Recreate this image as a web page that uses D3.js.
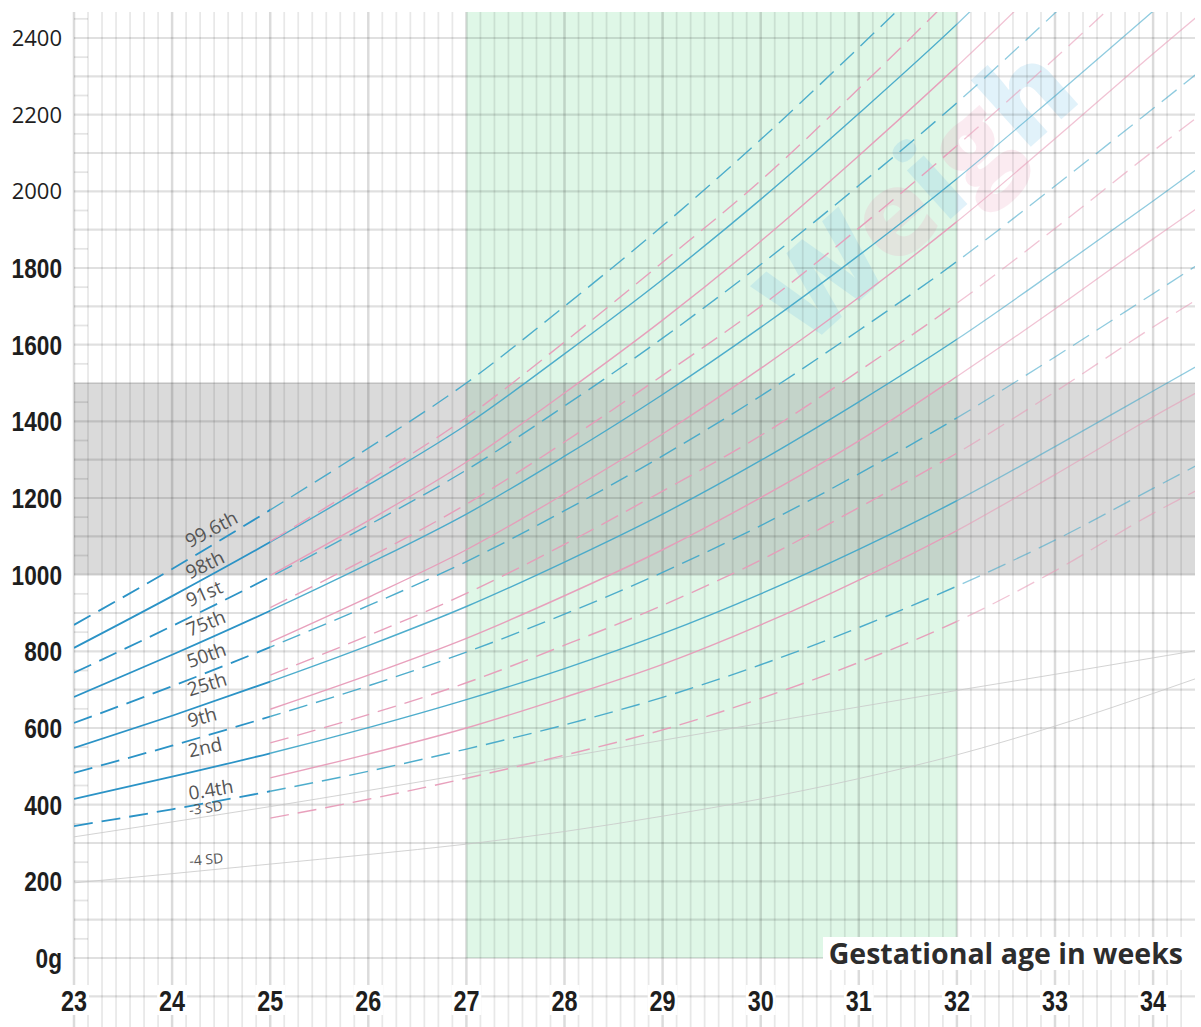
<!DOCTYPE html>
<html>
<head>
<meta charset="utf-8">
<script src="https://cdn.jsdelivr.net/npm/d3@7"></script>
<style>
  body { margin: 0; background: #fff; }
  svg { display: block; }
</style>
</head>
<body>
<svg id="chart" width="1201" height="1027"></svg>
<script>
// gestational weeks the curves are read at
var weeks = [23, 24, 25, 26, 27, 28, 29, 30, 31, 32, 33, 34, 35];
var girlWeeks = [25, 26, 27, 28, 29, 30, 31, 32, 33, 34, 35];

var centileNames = ["99.6th", "98th", "91st", "75th", "50th", "25th", "9th", "2nd", "0.4th"];
var centileDashed = [true, false, true, false, true, false, true, false, true];

// boys weight (g), one row per centile, top to bottom
var boysWeight = [
  [869, 1015, 1169, 1330, 1500, 1700, 1910, 2135, 2375, 2625, 2895, 3170, 3450],
  [809, 944, 1085, 1234, 1391, 1576, 1770, 1979, 2203, 2436, 2689, 2947, 3209],
  [744, 866, 994, 1129, 1273, 1440, 1617, 1809, 2015, 2231, 2465, 2705, 2948],
  [681, 791, 906, 1028, 1158, 1309, 1470, 1645, 1833, 2033, 2249, 2470, 2695],
  [613, 709, 811, 919, 1034, 1167, 1310, 1466, 1637, 1817, 2014, 2216, 2420],
  [548, 632, 721, 815, 917, 1033, 1158, 1298, 1451, 1614, 1792, 1975, 2161],
  [483, 554, 630, 710, 798, 897, 1006, 1128, 1263, 1409, 1568, 1733, 1899],
  [415, 473, 534, 601, 674, 755, 846, 950, 1066, 1193, 1334, 1479, 1625],
  [344, 388, 435, 487, 545, 608, 680, 765, 862, 970, 1090, 1225, 1360]
];

// girls weight (g), from 25 weeks
var girlsWeight = [
  [1087, 1244, 1410, 1607, 1815, 2028, 2268, 2520, 2779, 3043, 3312],
  [998, 1141, 1294, 1474, 1664, 1870, 2093, 2326, 2573, 2829, 3081],
  [914, 1044, 1184, 1346, 1520, 1700, 1904, 2119, 2347, 2583, 2815],
  [824, 941, 1065, 1211, 1367, 1538, 1723, 1921, 2137, 2359, 2574],
  [738, 841, 951, 1079, 1218, 1363, 1531, 1708, 1903, 2105, 2299],
  [649, 738, 834, 945, 1065, 1201, 1349, 1517, 1693, 1876, 2053],
  [561, 635, 718, 816, 920, 1038, 1175, 1317, 1477, 1646, 1804],
  [470, 532, 600, 680, 766, 869, 986, 1115, 1261, 1412, 1552],
  [365, 414, 469, 529, 595, 677, 771, 878, 1010, 1160, 1290]
];

var sdNames = ["-3 SD", "-4 SD"];
var sdWeight = [
  [316, 355, 395, 437, 480, 524, 568, 612, 655, 698, 740, 783, 826],
  [196, 220, 245, 270, 297, 330, 370, 415, 468, 530, 605, 690, 780]
];

var xTicks = [23, 24, 25, 26, 27, 28, 29, 30, 31, 32, 33, 34];
var yTicks = [0, 200, 400, 600, 800, 1000, 1200, 1400, 1600, 1800, 2000, 2200, 2400];
var greenBand = [27, 32];
var grayBand = [1000, 1500];

// label nudges in px above each curve
var centileLabelDy = [-10, -7, -10, -10, -11, -13, -13, -15, -6];
var sdLabelDy = [-4, -6];

var svg = d3.select("#chart");
var H = 1027;
var plotLeft = 74, plotTop = 12, plotRight = 1195;

var x = d3.scaleLinear().domain([23, 34.5]).range([74, 74 + 11.5 * 98.1]);
var y = d3.scaleLinear().domain([0, 2400]).range([958, 38]);

var defs = svg.append("defs");
function clip(id, x0, x1) {
  defs.append("clipPath").attr("id", id)
    .append("rect").attr("x", x0).attr("y", plotTop)
    .attr("width", x1 - x0).attr("height", H - plotTop);
}
clip("clipA", plotLeft, x(25));
clip("clipB", x(25), x(32));
clip("clipC", x(32), plotRight);
clip("clipAll", plotLeft, plotRight);

// bands
svg.append("rect")
  .attr("x", x(greenBand[0])).attr("y", plotTop)
  .attr("width", x(greenBand[1]) - x(greenBand[0])).attr("height", y(0) - plotTop)
  .attr("fill", "#dff7e7");
svg.append("rect")
  .attr("x", plotLeft).attr("y", y(grayBand[1]))
  .attr("width", plotRight - plotLeft).attr("height", y(grayBand[0]) - y(grayBand[1]))
  .attr("fill", "#8c8c8c").attr("fill-opacity", 0.32);

// watermark, one letter at a time along a slanted baseline
var wmLetters = ["W", "e", "i", "g", "h"];
var wmColors = ["#6fbfe8", "#f0a0bd", "#6fbfe8", "#f0a0bd", "#6fbfe8"];
var wmAdvance = [0, 118, 188, 224, 296];
var wmAngle = -42 * Math.PI / 180;
wmLetters.forEach(function(l, i) {
  var px = 805 + wmAdvance[i] * Math.cos(wmAngle);
  var py = 350 + wmAdvance[i] * Math.sin(wmAngle);
  svg.append("text")
    .attr("transform", "translate(" + px + "," + py + ") rotate(-42)")
    .style("font-family", "Open Sans, sans-serif")
    .style("font-weight", "800")
    .style("font-size", "118px")
    .attr("fill", wmColors[i])
    .attr("opacity", 0.2)
    .text(l);
});

// grid
var grid = svg.append("g");
for (var d = 0; d <= 11.4 * 7; d++) {
  var wk = 23 + d / 7;
  var major = d % 7 === 0;
  grid.append("line")
    .attr("x1", x(wk)).attr("x2", x(wk))
    .attr("y1", plotTop).attr("y2", H)
    .attr("stroke", "#000")
    .attr("stroke-opacity", major ? 0.14 : 0.09)
    .attr("stroke-width", major ? 2.5 : 1.8);
}
for (var g = -100; g <= 2400; g += 100) {
  grid.append("line")
    .attr("x1", plotLeft).attr("x2", plotRight)
    .attr("y1", y(g)).attr("y2", y(g))
    .attr("stroke", "#000").attr("stroke-opacity", 0.12)
    .attr("stroke-width", 2.2);
}
for (var g2 = 50; g2 <= 2450; g2 += 100) {
  grid.append("line")
    .attr("x1", plotLeft).attr("x2", plotLeft + 14)
    .attr("y1", y(g2)).attr("y2", y(g2))
    .attr("stroke", "#000").attr("stroke-opacity", 0.1)
    .attr("stroke-width", 1.8);
}

// curves
var line = d3.line().curve(d3.curveMonotoneX);
function drawSet(rows, wks, color, clipId, width, opacity) {
  var gset = svg.append("g").attr("clip-path", "url(#" + clipId + ")");
  rows.forEach(function(r, i) {
    gset.append("path")
      .attr("d", line(r.map(function(v, j) { return [x(wks[j]), y(v)]; })))
      .attr("fill", "none")
      .attr("stroke", color)
      .attr("stroke-width", width)
      .attr("stroke-opacity", opacity)
      .attr("stroke-dasharray", centileDashed[i] ? "19,9" : null);
  });
}
// sd lines
sdWeight.forEach(function(r) {
  svg.append("path")
    .attr("clip-path", "url(#clipAll)")
    .attr("d", line(r.map(function(v, j) { return [x(weeks[j]), y(v)]; })))
    .attr("fill", "none").attr("stroke", "#c8c8c8")
    .attr("stroke-width", 1).attr("stroke-opacity", 0.8);
});
drawSet(boysWeight, weeks, "#2b93c6", "clipA", 1.8, 1);
drawSet(boysWeight, weeks, "#45a9c9", "clipB", 1.4, 0.95);
drawSet(boysWeight, weeks, "#45a9c9", "clipC", 1.3, 0.6);
drawSet(girlsWeight, girlWeeks, "#e79bb8", "clipB", 1.4, 0.95);
drawSet(girlsWeight, girlWeeks, "#e79bb8", "clipC", 1.3, 0.6);

// centile labels
var labelWeek = 24.18;
function labelAt(row, name, size, dy) {
  var f = d3.scaleLinear().domain(weeks).range(row);
  var v0 = f(labelWeek), v1 = f(labelWeek + 0.5);
  var ang = Math.atan2(y(v0) - y(v1), x(labelWeek + 0.5) - x(labelWeek)) * 180 / Math.PI;
  svg.append("text")
    .attr("transform", "translate(" + x(labelWeek) + "," + (y(v0) + dy) + ") rotate(" + (-ang * 0.9) + ")")
    .style("font-family", "Open Sans, sans-serif")
    .style("font-size", size + "px")
    .attr("fill", "#555")
    .text(name);
}
boysWeight.forEach(function(r, i) { labelAt(r, centileNames[i], 19, centileLabelDy[i]); });
sdWeight.forEach(function(r, i) { labelAt(r, sdNames[i], 14, sdLabelDy[i]); });

// y axis labels
var yLab = svg.append("g");
yTicks.forEach(function(t) {
  var big = t >= 2000;
  yLab.append("text")
    .attr("transform", "translate(62," + (y(t) + (big ? 8 : 10)) + ") scale(" + (big ? 1 : 0.84) + ",1)")
    .attr("text-anchor", "end")
    .style("font-family", big ? "Open Sans, sans-serif" : "Liberation Sans, Arial, sans-serif")
    .style("font-weight", big ? "400" : "700")
    .style("font-size", big ? "22px" : "27px")
    .attr("fill", "#1e1e1e")
    .text(t === 0 ? "0g" : t);
});

// x axis labels
var xLab = svg.append("g");
xTicks.forEach(function(t) {
  xLab.append("rect")
    .attr("x", x(t) - 15).attr("y", 985).attr("width", 30).attr("height", 30)
    .attr("fill", "#fff");
  xLab.append("text")
    .attr("transform", "translate(" + x(t) + ",1011) scale(0.78,1)")
    .attr("text-anchor", "middle")
    .style("font-family", "Liberation Sans, Arial, sans-serif")
    .style("font-weight", "700")
    .style("font-size", "30px")
    .attr("fill", "#1e1e1e")
    .text(t);
});

// axis title
svg.append("rect")
  .attr("x", 823).attr("y", 937).attr("width", 372).attr("height", 33)
  .attr("fill", "#fff");
svg.append("text")
  .attr("x", 1183).attr("y", 964)
  .attr("text-anchor", "end")
  .style("font-family", "Open Sans, sans-serif")
  .style("font-weight", "700")
  .style("font-size", "28.5px")
  .attr("fill", "#2d2d2d")
  .text("Gestational age in weeks");
</script>
</body>
</html>
